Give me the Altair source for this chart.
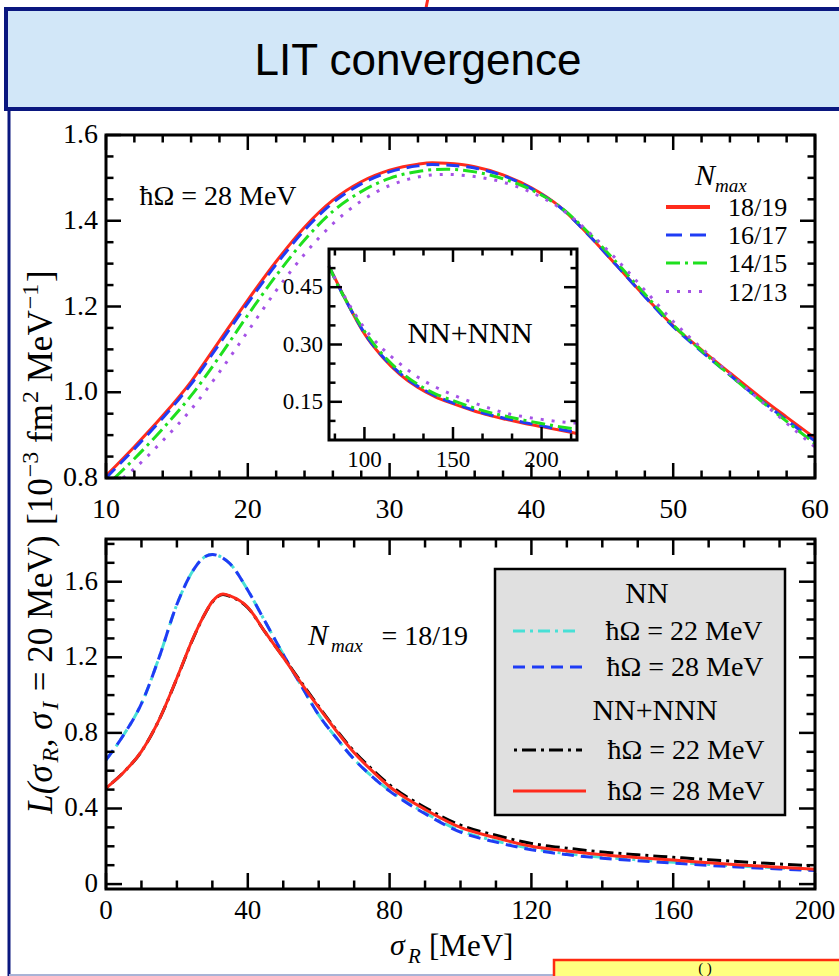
import altair as alt
import pandas as pd

# ---------------- data ----------------
# upper panel: LIT for NN+NNN, hbar*Omega = 28 MeV, several Nmax
TOP_X = [10, 12, 14, 16, 18, 20, 22, 24, 26, 28, 30, 32, 33, 34, 36, 38, 40,
         42, 44, 46, 48, 50, 52, 54, 56, 58, 60]
TOP_X_GREEN = [10.6] + TOP_X[1:]
TOP_X_PURPLE = [11.2] + TOP_X[1:]
TOP_N1819 = [0.805, 0.873, 0.945, 1.025, 1.120, 1.215, 1.305, 1.385, 1.448, 1.491,
             1.518, 1.532, 1.535, 1.534, 1.526, 1.507, 1.477, 1.433, 1.368, 1.296,
             1.224, 1.155, 1.099, 1.045, 0.992, 0.942, 0.893]
TOP_N1617 = [0.800, 0.868, 0.940, 1.019, 1.113, 1.208, 1.298, 1.378, 1.442, 1.486,
             1.514, 1.528, 1.531, 1.530, 1.523, 1.505, 1.475, 1.432, 1.368, 1.296,
             1.223, 1.153, 1.095, 1.040, 0.986, 0.935, 0.886]
TOP_N1415 = [0.800, 0.845, 0.915, 0.992, 1.083, 1.180, 1.272, 1.355, 1.422, 1.468,
             1.499, 1.515, 1.519, 1.520, 1.514, 1.498, 1.472, 1.433, 1.373, 1.303,
             1.229, 1.157, 1.097, 1.040, 0.985, 0.932, 0.880]
TOP_N1213 = [0.800, 0.822, 0.887, 0.960, 1.047, 1.142, 1.237, 1.322, 1.393, 1.446,
             1.482, 1.502, 1.507, 1.508, 1.503, 1.490, 1.466, 1.430, 1.375, 1.310,
             1.238, 1.165, 1.103, 1.043, 0.985, 0.928, 0.872]

# inset: high-energy tail
INSET_X = [80, 85, 90, 95, 100, 110, 120, 130, 140, 150, 160, 170, 180, 190, 200, 210, 220]
INSET_N1819 = [0.505, 0.458, 0.412, 0.368, 0.328, 0.268, 0.222, 0.188, 0.163, 0.145,
               0.129, 0.115, 0.104, 0.094, 0.085, 0.076, 0.067]
INSET_N1617 = [0.505, 0.456, 0.411, 0.369, 0.330, 0.270, 0.225, 0.191, 0.166, 0.147,
               0.131, 0.117, 0.106, 0.096, 0.087, 0.078, 0.070]
INSET_N1415 = [0.505, 0.455, 0.412, 0.372, 0.335, 0.275, 0.230, 0.196, 0.171, 0.153,
               0.137, 0.123, 0.112, 0.102, 0.093, 0.085, 0.078]
INSET_N1213 = [0.505, 0.458, 0.416, 0.378, 0.343, 0.290, 0.250, 0.215, 0.189, 0.168,
               0.150, 0.134, 0.120, 0.111, 0.104, 0.098, 0.094]

# lower panel: Nmax = 18/19, NN vs NN+NNN
BOT_X = [0, 5, 10, 15, 20, 25, 28, 30, 33, 35, 40, 45, 50, 55, 60, 65, 70, 75, 80,
         85, 90, 100, 110, 120, 130, 140, 150, 160, 170, 180, 190, 200]
BOT_NN22 = [0.657, 0.790, 0.955, 1.200, 1.480, 1.672, 1.733, 1.744, 1.725, 1.695,
            1.555, 1.385, 1.215, 1.052, 0.895, 0.773, 0.660, 0.570, 0.495, 0.432,
            0.377, 0.282, 0.228, 0.188, 0.161, 0.142, 0.128, 0.116, 0.104, 0.094,
            0.085, 0.077]
BOT_NN28 = [0.657, 0.790, 0.955, 1.200, 1.480, 1.672, 1.733, 1.744, 1.725, 1.695,
            1.555, 1.385, 1.215, 1.052, 0.895, 0.773, 0.660, 0.570, 0.492, 0.428,
            0.372, 0.275, 0.222, 0.182, 0.156, 0.137, 0.123, 0.111, 0.099, 0.089,
            0.080, 0.072]
BOT_NNN22 = [0.508, 0.592, 0.702, 0.870, 1.088, 1.318, 1.433, 1.493, 1.532, 1.523,
             1.462, 1.330, 1.202, 1.070, 0.940, 0.815, 0.702, 0.608, 0.525, 0.460,
             0.405, 0.312, 0.258, 0.215, 0.190, 0.170, 0.155, 0.142, 0.129, 0.117,
             0.106, 0.095]
BOT_NNN28 = [0.508, 0.592, 0.702, 0.870, 1.090, 1.320, 1.435, 1.495, 1.535, 1.525,
             1.465, 1.330, 1.200, 1.065, 0.935, 0.810, 0.695, 0.600, 0.515, 0.450,
             0.395, 0.300, 0.245, 0.200, 0.175, 0.155, 0.140, 0.127, 0.113, 0.100,
             0.089, 0.079]

# tick values / labels
TOP_XT_MAJ = [10, 20, 30, 40, 50, 60]
TOP_XT_LAB = ["10", "20", "30", "40", "50", "60"]
TOP_XT_MIN = [12, 14, 16, 18, 22, 24, 26, 28, 32, 34, 36, 38, 42, 44, 46, 48, 52, 54, 56, 58]
TOP_YT_MAJ = [0.8, 1.0, 1.2, 1.4, 1.6]
TOP_YT_LAB = ["0.8", "1.0", "1.2", "1.4", "1.6"]
TOP_YT_MIN = [0.85, 0.9, 0.95, 1.05, 1.1, 1.15, 1.25, 1.3, 1.35, 1.45, 1.5, 1.55]
INS_XT_MAJ = [100, 150, 200]
INS_XT_LAB = ["100", "150", "200"]
INS_XT_MIN = [83.33, 116.67, 133.33, 166.67, 183.33, 216.67]
INS_YT_MAJ = [0.15, 0.30, 0.45]
INS_YT_LAB = ["0.15", "0.30", "0.45"]
INS_YT_MIN = [0.10, 0.20, 0.25, 0.35, 0.40, 0.50]
BOT_XT_MAJ = [0, 40, 80, 120, 160, 200]
BOT_XT_LAB = ["0", "40", "80", "120", "160", "200"]
BOT_XT_MIN = [10, 20, 30, 50, 60, 70, 90, 100, 110, 130, 140, 150, 170, 180, 190]
BOT_YT_MAJ = [0, 0.4, 0.8, 1.2, 1.6]
BOT_YT_LAB = ["0", "0.4", "0.8", "1.2", "1.6"]
BOT_YT_MIN = [0.1, 0.2, 0.3, 0.5, 0.6, 0.7, 0.9, 1.0, 1.1, 1.3, 1.4, 1.5, 1.7, 1.8]

TOP_LEGEND = ["18/19", "16/17", "14/15", "12/13"]
BOT_LEGEND = ["ħΩ = 22 MeV", "ħΩ = 28 MeV", "ħΩ = 22 MeV", "ħΩ = 28 MeV"]

# ---------------- styles ----------------
W, H = 839, 976
SERIF = "Liberation Serif"
SANS = "Liberation Sans"
RED = "#ff2b1c"
BLUE = "#1f3cf5"
GREEN = "#1ee01e"
PURPLE = "#a552e6"
CYAN = "#48e0d6"
NAVY = "#0a177f"

ONE = pd.DataFrame({"k": [0]})


def vtext(s, x, y, size, italic=False, align="left", baseline="alphabetic",
          angle=0, font=SERIF, color="black"):
    kw = dict(text=s, font=font, fontSize=size, align=align, baseline=baseline, color=color)
    if italic:
        kw["fontStyle"] = "italic"
    if angle:
        kw["angle"] = angle
    return alt.Chart(ONE).mark_text(**kw).encode(x=alt.value(x), y=alt.value(y))


def vrule(x1, y1, x2, y2, color, width, dash=None):
    kw = dict(color=color, strokeWidth=width)
    if dash:
        kw["strokeDash"] = dash
    return alt.Chart(ONE).mark_rule(**kw).encode(
        x=alt.value(x1), x2=alt.value(x2), y=alt.value(y1), y2=alt.value(y2))


def vrect(x1, y1, x2, y2, fill, stroke, width, fill_opacity=1.0):
    return alt.Chart(ONE).mark_rect(fill=fill, fillOpacity=fill_opacity, stroke=stroke,
                                    strokeWidth=width).encode(
        x=alt.value(x1), x2=alt.value(x2), y=alt.value(y1), y2=alt.value(y2))


def panel(series, sx, sy, xt, yt, xlab, ylab, box, tl, lab_size, xlab_base, ylab_right):
    x0, y0, x1, y1 = box
    layers = []
    for xs, ys, color, dash in series:
        df = pd.DataFrame({"x": xs, "y": ys})
        mk = dict(color=color, strokeWidth=3, interpolate="monotone")
        if dash:
            mk["strokeDash"] = dash
        layers.append(alt.Chart(df).mark_line(**mk).encode(
            x=alt.X("x:Q", scale=sx, axis=None),
            y=alt.Y("y:Q", scale=sy, axis=None)))
    for vals, L in ((xt[0], tl[0]), (xt[1], tl[1])):
        df = pd.DataFrame({"v": vals})
        for ya, yb in ((y1, y1 - L), (y0, y0 + L)):
            layers.append(alt.Chart(df).mark_rule(color="black", strokeWidth=2.5).encode(
                x=alt.X("v:Q", scale=sx, axis=None), y=alt.value(ya), y2=alt.value(yb)))
    for vals, L in ((yt[0], tl[0]), (yt[1], tl[1])):
        df = pd.DataFrame({"v": vals})
        for xa, xb in ((x0, x0 + L), (x1, x1 - L)):
            layers.append(alt.Chart(df).mark_rule(color="black", strokeWidth=2.5).encode(
                y=alt.Y("v:Q", scale=sy, axis=None), x=alt.value(xa), x2=alt.value(xb)))
    # tick labels, placed through the panel's scales
    dfx = pd.DataFrame({"v": xt[0], "lab": xlab})
    layers.append(alt.Chart(dfx).mark_text(font=SERIF, fontSize=lab_size, align="center",
                                           baseline="alphabetic", color="black").encode(
        x=alt.X("v:Q", scale=sx, axis=None), y=alt.value(xlab_base), text="lab:N"))
    dfy = pd.DataFrame({"v": yt[0], "lab": ylab})
    layers.append(alt.Chart(dfy).mark_text(font=SERIF, fontSize=lab_size, align="right",
                                           baseline="middle", color="black").encode(
        y=alt.Y("v:Q", scale=sy, axis=None), x=alt.value(ylab_right), text="lab:N"))
    layers.append(vrect(x0, y0, x1, y1, "white", "black", 3, fill_opacity=0))
    return alt.layer(*layers)


# ---------------- panels ----------------
TOP_BOX = (106, 135, 815, 478)
top_sx = alt.Scale(domain=[10, 60], range=[106, 815], zero=False, nice=False)
top_sy = alt.Scale(domain=[0.8, 1.6], range=[478, 135], zero=False, nice=False)
top_panel = panel(
    [(TOP_X, TOP_N1819, RED, None),
     (TOP_X, TOP_N1617, BLUE, [13, 7]),
     (TOP_X_GREEN, TOP_N1415, GREEN, [14, 5, 3, 5]),
     (TOP_X_PURPLE, TOP_N1213, PURPLE, [3, 8])],
    top_sx, top_sy,
    (TOP_XT_MAJ, TOP_XT_MIN), (TOP_YT_MAJ, TOP_YT_MIN), TOP_XT_LAB, TOP_YT_LAB,
    TOP_BOX, (15, 7.5), 28, 518, 98)

INS_BOX = (329, 249, 577, 440)
ins_sx = alt.Scale(domain=[80, 220], range=[329, 577], zero=False, nice=False)
ins_sy = alt.Scale(domain=[0.05, 0.55], range=[440, 249], zero=False, nice=False)
inset_panel = panel(
    [(INSET_X, INSET_N1819, RED, None),
     (INSET_X, INSET_N1617, BLUE, [13, 7]),
     (INSET_X, INSET_N1415, GREEN, [14, 5, 3, 5]),
     (INSET_X, INSET_N1213, PURPLE, [3, 8])],
    ins_sx, ins_sy,
    (INS_XT_MAJ, INS_XT_MIN), (INS_YT_MAJ, INS_YT_MIN), INS_XT_LAB, INS_YT_LAB,
    INS_BOX, (13, 6.5), 23, 467, 323)

BOT_BOX = (106, 539, 815, 889)
bot_sx = alt.Scale(domain=[0, 200], range=[106, 815], zero=False, nice=False)
bot_sy = alt.Scale(domain=[-0.026, 1.826], range=[889, 539], zero=False, nice=False)
bot_panel = panel(
    [(BOT_X, BOT_NN22, CYAN, [12, 5, 3, 5]),
     (BOT_X, BOT_NN28, BLUE, [12, 7]),
     (BOT_X, BOT_NNN22, "black", [3, 5, 14, 5]),
     (BOT_X, BOT_NNN28, RED, None)],
    bot_sx, bot_sy,
    (BOT_XT_MAJ, BOT_XT_MIN), (BOT_YT_MAJ, BOT_YT_MIN), BOT_XT_LAB, BOT_YT_LAB,
    BOT_BOX, (16, 8.5), 27, 919, 98)

# ---------------- decorations ----------------
deco_back = [
    vrule(428, -2, 424, 18, RED, 3),
    vrect(6, 9, 900, 109, "#d2e7f8", NAVY, 4),
    vtext("LIT convergence", 418, 75, 44, align="center", font=SANS),
    vrule(9, 109, 9, 980, NAVY, 3),
    vrule(9, 975, 556, 975, "#a9b3d6", 2),
    vrect(554, 960, 900, 1000, "#ffff80", "#ff2a10", 2.5),
    vtext("(    )", 705, 973, 15, align="center"),
]

# rotated y title, laid out piece by piece
WR = {' ': .25, '(': .333, ')': .333, '[': .333, ']': .333, ',': .25, '=': .564,
      'M': .889, 'e': .444, 'V': .722, 'f': .333, 'm': .778, '−': .564}
WI = {'L': .556, '(': .333, 'σ': .55, 'R': .611, 'I': .333, ',': .25}


def twidth(s, italic, size):
    tab = WI if italic else WR
    return size * sum(tab.get(c, WR.get(c, .5)) for c in s)


MAIN, SCRIPT = 35, 24
YT_PIECES = [("L(σ", True, "b", 0), ("R", True, "sub", 0.02), (",", True, "b", 0.02),
             ("σ", True, "b", 0.25), ("I", True, "sub", 0.02), ("= 20 MeV)", False, "b", 0.3),
             ("[10", False, "b", 0.3), ("−3", False, "sup", 0.03), ("fm", False, "b", 0.25),
             ("2", False, "sup", 0.03), ("MeV", False, "b", 0.25), ("−1", False, "sup", 0.03),
             ("]", False, "b", 0.05)]
XPOS = {"b": 52, "sub": 58, "sup": 38}
total = 0
for s, it, kind, gap in YT_PIECES:
    total += gap * MAIN + twidth(s, it, MAIN if kind == "b" else SCRIPT)
cur = 542 + total / 2
ytitle = []
for s, it, kind, gap in YT_PIECES:
    size = MAIN if kind == "b" else SCRIPT
    cur -= gap * MAIN
    ytitle.append(vtext(s, XPOS[kind], cur, size, italic=it, angle=270))
    cur -= twidth(s, it, size)

annots = [
    # x title lower panel
    vtext("σ", 390, 955, 30, italic=True),
    vtext("R", 408, 963, 21, italic=True),
    vtext("[MeV]", 429, 956, 31),
    # upper panel texts
    vtext("ħΩ = 28 MeV", 218, 205, 28, align="center"),
    vtext("N", 695, 185, 30, italic=True),
    vtext("max", 715, 192, 19, italic=True),
    vtext("NN+NNN", 470, 343, 30, align="center"),
    # lower panel texts
    vtext("N", 308, 645, 30, italic=True),
    vtext("max", 331, 652, 19, italic=True),
    vtext("= 18/19", 468, 645, 28, align="right"),
]

# upper legend
top_leg_styles = [(RED, None, 4), (BLUE, [16, 8], 3), (GREEN, [14, 5, 3, 5], 3), (PURPLE, [3, 8], 3)]
top_leg_y = [207, 235, 263, 291.5]
for lab, (c, d, w), yy in zip(TOP_LEGEND, top_leg_styles, top_leg_y):
    annots.append(vrule(666, yy, 710, yy, c, w, d))
    annots.append(vtext(lab, 728, yy + 9, 26))

# lower legend
annots.append(vrect(495, 569, 785, 815, "#e0e0e0", "black", 2.5))
annots.append(vtext("NN", 647, 603, 30, align="center"))
annots.append(vtext("NN+NNN", 655, 720, 30, align="center"))
bot_leg_styles = [(CYAN, [12, 5, 3, 5], 513, 580), (BLUE, [12, 7], 513, 586),
                  ("black", [3, 5, 14, 5], 514, 582), (RED, None, 513, 586)]
bot_leg_y = [631, 667, 750, 791]
bot_leg_tx = [684, 685, 686, 686]
for lab, (c, d, xa, xb), yy, tx in zip(BOT_LEGEND, bot_leg_styles, bot_leg_y, bot_leg_tx):
    annots.append(vrule(xa, yy, xb, yy, c, 3, d))
    annots.append(vtext(lab, tx, yy + 9, 28, align="center"))

inset_bg = vrect(329, 249, 577, 440, "white", "white", 0)

chart = alt.layer(
    *deco_back, top_panel, inset_bg, inset_panel, bot_panel, *ytitle, *annots
).resolve_scale(
    x="independent", y="independent"
).properties(
    width=W, height=H, padding=0,
    autosize=alt.AutoSizeParams(type="none"),
    background="white",
).configure_view(strokeWidth=0)

chart.save("out.html", embed_options={"renderer": "svg", "actions": False})
